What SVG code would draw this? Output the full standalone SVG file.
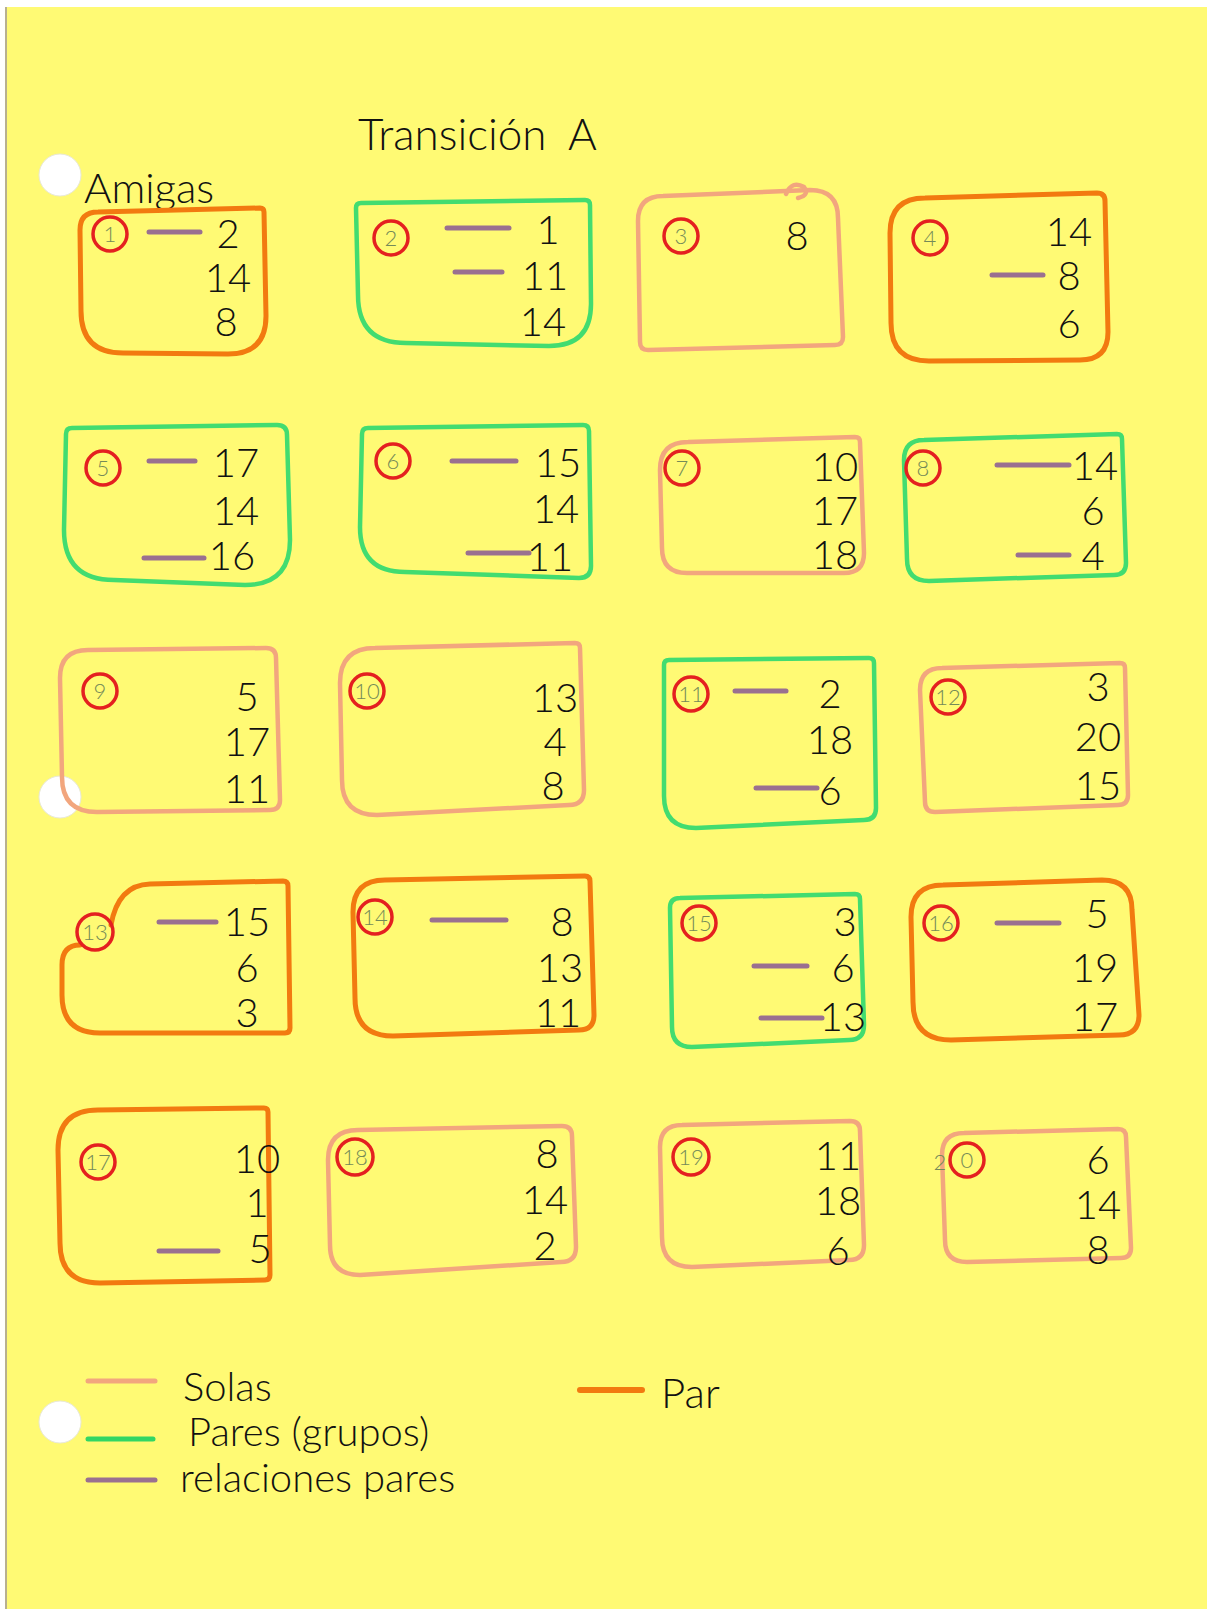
<svg xmlns="http://www.w3.org/2000/svg" width="1207" height="1612" viewBox="0 0 1207 1612">
<defs>
<style>
.box{fill:none;stroke-linejoin:round;stroke-linecap:round}
.or{stroke:#F27A10;stroke-width:5}
.gr{stroke:#42DC70;stroke-width:4.5}
.sa{stroke:#F2A67E;stroke-width:4.5}
.rc{fill:none;stroke:#E42020;stroke-width:3.5}
.id{font-family:Lato,"Liberation Sans",Arial,sans-serif;font-weight:300;font-size:22px;fill:#748a58;text-anchor:middle}
.n{font-family:Lato,"Liberation Sans",Arial,sans-serif;font-weight:300;font-size:40px;fill:#111;text-anchor:middle}
.hw{font-family:Lato,"Liberation Sans",Arial,sans-serif;font-weight:300;fill:#111}
.rel{stroke:#9A7090;stroke-width:5;stroke-linecap:round}
.hole{fill:#fff;stroke:#e8e8d8;stroke-width:1}
</style>
</defs>
<rect x="0" y="0" width="1207" height="1612" fill="#ffffff"/>
<rect x="5" y="7" width="1202" height="1602" fill="#FFFA74"/>
<line x1="6" y1="7" x2="6" y2="1609" stroke="#b8b090" stroke-width="2"/>

<g id="holes">
<circle class="hole" cx="60" cy="175" r="21"/>
<circle class="hole" cx="60" cy="797" r="21"/>
<circle class="hole" cx="60" cy="1422" r="21"/>
</g>

<g id="title">
<text class="hw" x="358" y="150" font-size="44">Transición</text>
<text class="hw" x="568" y="150" font-size="44">A</text>
<text class="hw" x="84" y="203" font-size="42">Amigas</text>
</g>

<g id="node1">
<path class="box or" d="M98,212 L260,208 Q264,208 264,212 L266,316 Q266,354 228,354 L123,353 Q81,353 81,311 L80,230 Q80,212 98,212 Z"/>
<circle class="rc" cx="110" cy="234" r="17"/><text class="id" x="110" y="242">1</text>
<line class="rel" x1="149" y1="232" x2="200" y2="232"/>
<text class="n"><tspan x="228" y="248">2</tspan><tspan x="228" y="292">14</tspan><tspan x="226" y="336">8</tspan></text>
</g>

<g id="node2">
<path class="box gr" d="M361,203 L585,200 Q590,200 590,205 L591,304 Q591,346 549,346 L406,343 Q358,343 358,295 L356,208 Q356,203 361,203 Z"/>
<circle class="rc" cx="391" cy="238" r="17"/><text class="id" x="391" y="246">2</text>
<line class="rel" x1="447" y1="228" x2="509" y2="228"/>
<line class="rel" x1="455" y1="272" x2="502" y2="272"/>
<text class="n"><tspan x="548" y="244">1</tspan><tspan x="545" y="290">11</tspan><tspan x="543" y="336">14</tspan></text>
</g>

<g id="node3">
<path class="box sa" d="M663,196 L810,190 Q838,190 838,218 L843,337 Q843,345 835,345 L648,350 Q640,350 640,342 L638,221 Q638,196 663,196 Z"/>
<path class="box sa" d="M786,194 q6,-14 18,-7 q6,8 -6,11"/>
<circle class="rc" cx="681" cy="236" r="17"/><text class="id" x="681" y="244">3</text>
<text class="n" x="797" y="250">8</text>
</g>

<g id="node4">
<path class="box or" d="M925,198 L1097,193 Q1105,193 1105,201 L1108,332 Q1108,360 1080,360 L929,361 Q891,361 891,323 L890,233 Q890,198 925,198 Z"/>
<circle class="rc" cx="930" cy="238" r="17"/><text class="id" x="930" y="246">4</text>
<line class="rel" x1="992" y1="275" x2="1043" y2="275"/>
<text class="n"><tspan x="1069" y="246">14</tspan><tspan x="1069" y="290">8</tspan><tspan x="1069" y="338">6</tspan></text>
</g>

<g id="node5">
<path class="box gr" d="M72,428 L277,425 Q287,425 287,435 L290,540 Q290,585 245,585 L114,580 Q64,580 64,530 L66,434 Q66,428 72,428 Z"/>
<circle class="rc" cx="103" cy="468" r="17"/><text class="id" x="103" y="476">5</text>
<line class="rel" x1="149" y1="461" x2="195" y2="461"/>
<line class="rel" x1="144" y1="558" x2="204" y2="558"/>
<text class="n"><tspan x="236" y="477">17</tspan><tspan x="236" y="525">14</tspan><tspan x="232" y="570">16</tspan></text>
</g>

<g id="node6">
<path class="box gr" d="M368,428 L583,425 Q589,425 589,431 L591,566 Q591,578 579,578 L405,572 Q360,572 360,527 L362,434 Q362,428 368,428 Z"/>
<circle class="rc" cx="393" cy="461" r="17"/><text class="id" x="393" y="469">6</text>
<line class="rel" x1="452" y1="461" x2="516" y2="461"/>
<line class="rel" x1="468" y1="553" x2="529" y2="553"/>
<text class="n"><tspan x="558" y="477">15</tspan><tspan x="556" y="523">14</tspan><tspan x="550" y="571">11</tspan></text>
</g>

<g id="node7">
<path class="box sa" d="M688,442 L855,437 Q860,437 860,442 L864,553 Q864,573 844,573 L687,573 Q662,573 662,548 L660,470 Q660,442 688,442 Z"/>
<circle class="rc" cx="682" cy="468" r="17"/><text class="id" x="682" y="476">7</text>
<text class="n"><tspan x="835" y="481">10</tspan><tspan x="835" y="525">17</tspan><tspan x="835" y="569">18</tspan></text>
</g>

<g id="node8">
<path class="box gr" d="M924,440 L1117,434 Q1122,434 1122,439 L1126,563 Q1126,575 1114,575 L929,581 Q907,581 907,559 L904,460 Q904,440 924,440 Z"/>
<circle class="rc" cx="923" cy="468" r="17"/><text class="id" x="923" y="476">8</text>
<line class="rel" x1="997" y1="465" x2="1069" y2="465"/>
<line class="rel" x1="1018" y1="555" x2="1069" y2="555"/>
<text class="n"><tspan x="1095" y="480">14</tspan><tspan x="1093" y="525">6</tspan><tspan x="1093" y="570">4</tspan></text>
</g>

<g id="node9">
<path class="box sa" d="M88,650 L266,648 Q276,648 276,658 L280,800 Q280,810 270,810 L97,812 Q62,812 62,777 L60,678 Q60,650 88,650 Z"/>
<circle class="rc" cx="100" cy="691" r="17"/><text class="id" x="100" y="699">9</text>
<text class="n"><tspan x="247" y="711">5</tspan><tspan x="247" y="756">17</tspan><tspan x="247" y="803">11</tspan></text>
</g>

<g id="node10">
<path class="box sa" d="M375,648 L575,643 Q580,643 580,648 L584,790 Q584,805 569,805 L377,815 Q342,815 342,780 L340,683 Q340,648 375,648 Z"/>
<circle class="rc" cx="367" cy="691" r="17"/><text class="id" x="367" y="699">10</text>
<text class="n"><tspan x="555" y="712">13</tspan><tspan x="555" y="756">4</tspan><tspan x="553" y="800">8</tspan></text>
</g>

<g id="node11">
<path class="box gr" d="M669,660 L869,658 Q874,658 874,663 L876,808 Q876,820 864,820 L696,828 Q664,828 664,796 L664,665 Q664,660 669,660 Z"/>
<circle class="rc" cx="691" cy="694" r="17"/><text class="id" x="691" y="702">11</text>
<line class="rel" x1="735" y1="691" x2="786" y2="691"/>
<line class="rel" x1="756" y1="788" x2="817" y2="788"/>
<text class="n"><tspan x="830" y="708">2</tspan><tspan x="830" y="754">18</tspan><tspan x="830" y="805">6</tspan></text>
</g>

<g id="node12">
<path class="box sa" d="M942,668 L1120,663 Q1125,663 1125,668 L1128,795 Q1128,805 1118,805 L935,812 Q925,812 925,802 L920,690 Q920,668 942,668 Z"/>
<circle class="rc" cx="948" cy="697" r="17"/><text class="id" x="948" y="705">12</text>
<text class="n"><tspan x="1098" y="701">3</tspan><tspan x="1098" y="751">20</tspan><tspan x="1098" y="800">15</tspan></text>
</g>

<g id="node13">
<path class="box or" d="M111,925 Q118,885 150,884 L283,881 Q288,881 288,886 L290,1028 Q290,1033 285,1033 L100,1033 Q62,1033 62,995 L62,965 Q62,945 80,945"/>
<circle class="rc" cx="95" cy="932" r="18"/><text class="id" x="95" y="940">13</text>
<line class="rel" x1="159" y1="922" x2="216" y2="922"/>
<text class="n"><tspan x="247" y="936">15</tspan><tspan x="247" y="982">6</tspan><tspan x="247" y="1027">3</tspan></text>
</g>

<g id="node14">
<path class="box or" d="M385,880 L585,876 Q590,876 590,881 L594,1015 Q594,1030 579,1030 L393,1036 Q355,1036 355,998 L353,912 Q353,880 385,880 Z"/>
<circle class="rc" cx="375" cy="917" r="17"/><text class="id" x="375" y="925">14</text>
<line class="rel" x1="432" y1="920" x2="506" y2="920"/>
<text class="n"><tspan x="562" y="936">8</tspan><tspan x="560" y="982">13</tspan><tspan x="558" y="1027">11</tspan></text>
</g>

<g id="node15">
<path class="box gr" d="M680,898 L855,894 Q860,894 860,899 L864,1025 Q864,1040 849,1040 L692,1047 Q672,1047 672,1027 L670,908 Q670,898 680,898 Z"/>
<circle class="rc" cx="699" cy="923" r="17"/><text class="id" x="699" y="931">15</text>
<line class="rel" x1="754" y1="966" x2="807" y2="966"/>
<line class="rel" x1="761" y1="1018" x2="822" y2="1018"/>
<text class="n"><tspan x="845" y="936">3</tspan><tspan x="843" y="982">6</tspan><tspan x="843" y="1031">13</tspan></text>
</g>

<g id="node16">
<path class="box or" d="M943,885 L1102,880 Q1132,880 1132,910 L1139,1015 Q1139,1035 1119,1035 L951,1040 Q913,1040 913,1002 L911,917 Q911,885 943,885 Z"/>
<circle class="rc" cx="941" cy="923" r="17"/><text class="id" x="941" y="931">16</text>
<line class="rel" x1="997" y1="923" x2="1059" y2="923"/>
<text class="n"><tspan x="1097" y="928">5</tspan><tspan x="1095" y="982">19</tspan><tspan x="1095" y="1031">17</tspan></text>
</g>

<g id="node17">
<path class="box or" d="M98,1110 L264,1108 Q268,1108 268,1112 L270,1275 Q270,1280 265,1280 L100,1283 Q60,1283 60,1243 L58,1150 Q58,1110 98,1110 Z"/>
<circle class="rc" cx="98" cy="1162" r="17"/><text class="id" x="98" y="1170">17</text>
<line class="rel" x1="159" y1="1251" x2="218" y2="1251"/>
<text class="n"><tspan x="257" y="1173">10</tspan><tspan x="257" y="1217">1</tspan><tspan x="260" y="1263">5</tspan></text>
</g>

<g id="node18">
<path class="box sa" d="M358,1130 L562,1126 Q572,1126 572,1136 L576,1247 Q576,1262 561,1262 L360,1275 Q330,1275 330,1245 L328,1160 Q328,1130 358,1130 Z"/>
<circle class="rc" cx="355" cy="1157" r="18"/><text class="id" x="355" y="1165">18</text>
<text class="n"><tspan x="547" y="1168">8</tspan><tspan x="545" y="1214">14</tspan><tspan x="545" y="1260">2</tspan></text>
</g>

<g id="node19">
<path class="box sa" d="M682,1125 L850,1121 Q860,1121 860,1131 L864,1245 Q864,1260 849,1260 L692,1267 Q662,1267 662,1237 L660,1147 Q660,1125 682,1125 Z"/>
<circle class="rc" cx="691" cy="1157" r="18"/><text class="id" x="691" y="1165">19</text>
<text class="n"><tspan x="838" y="1170">11</tspan><tspan x="838" y="1215">18</tspan><tspan x="838" y="1265">6</tspan></text>
</g>

<g id="node20">
<path class="box sa" d="M964,1133 L1118,1129 Q1126,1129 1126,1137 L1131,1248 Q1131,1258 1121,1258 L967,1262 Q945,1262 945,1240 L942,1155 Q942,1133 964,1133 Z"/>
<circle class="rc" cx="967" cy="1160" r="17"/><text class="id"><tspan x="940" y="1170">2</tspan><tspan x="967" y="1168">0</tspan></text>
<text class="n"><tspan x="1098" y="1174">6</tspan><tspan x="1098" y="1219">14</tspan><tspan x="1098" y="1264">8</tspan></text>
</g>

<g id="legend">
<line x1="88" y1="1381" x2="155" y2="1381" stroke="#F2A67E" stroke-width="5" stroke-linecap="round"/>
<line x1="88" y1="1439" x2="153" y2="1439" stroke="#32D664" stroke-width="5" stroke-linecap="round"/>
<line x1="88" y1="1480" x2="155" y2="1480" stroke="#9A7090" stroke-width="5" stroke-linecap="round"/>
<text class="hw" font-size="40"><tspan x="183" y="1401">Solas</tspan><tspan x="188" y="1446">Pares (grupos)</tspan><tspan x="180" y="1492">relaciones pares</tspan></text>
<line x1="580" y1="1390" x2="642" y2="1390" stroke="#F27A10" stroke-width="6" stroke-linecap="round"/>
<text class="hw" x="661" y="1408" font-size="42">Par</text>
</g>
</svg>
